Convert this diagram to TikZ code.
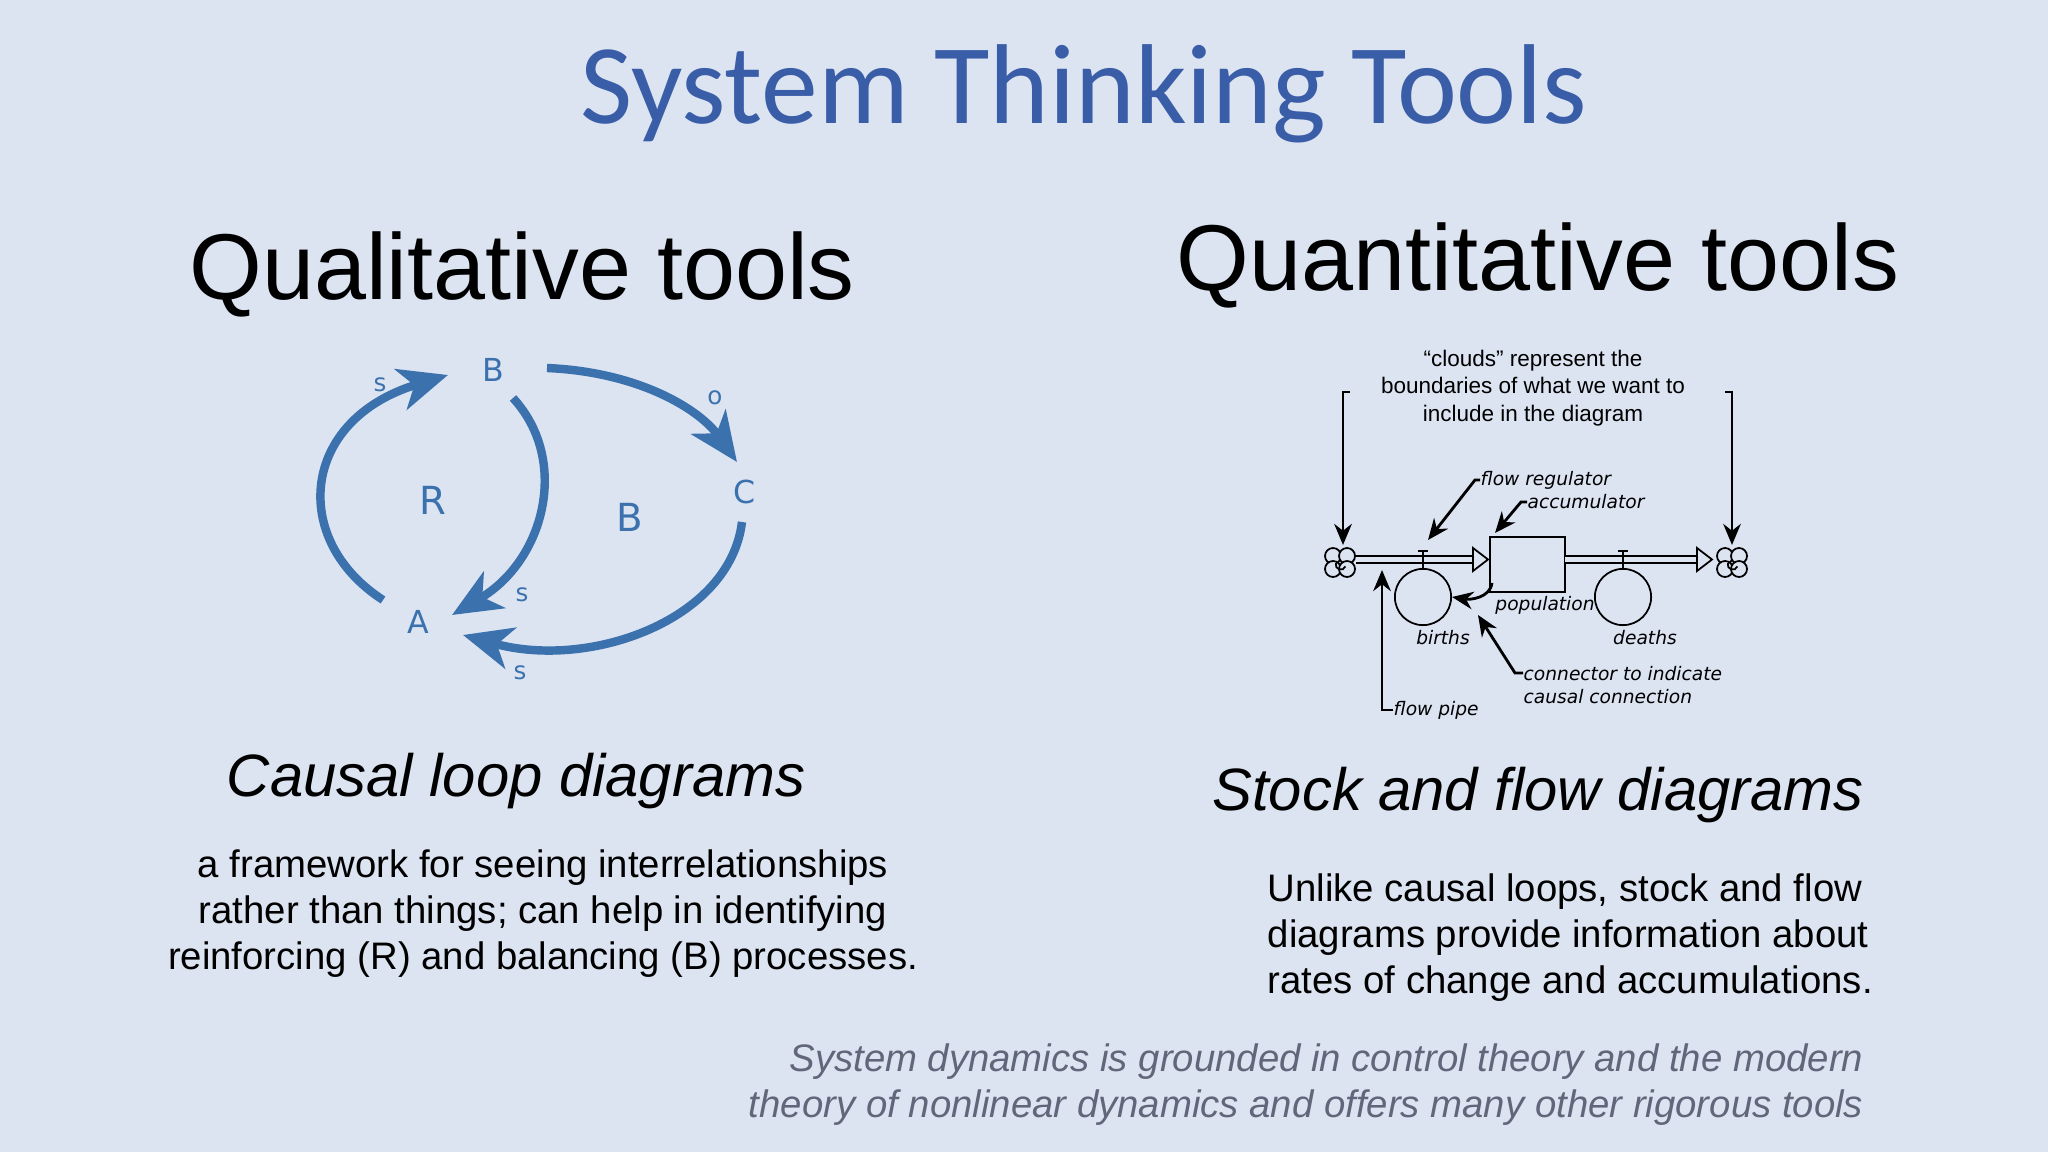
\documentclass[tikz,border=0pt]{standalone}
\usepackage{fontspec}
\setmainfont{Liberation Sans}
\newfontfamily\titlefont{Carlito}
\newfontfamily\handfont{DejaVu Sans}
\usetikzlibrary{arrows.meta}
\definecolor{bgc}{HTML}{DCE4F2}
\definecolor{titleblue}{HTML}{3A5DA8}
\definecolor{loopblue}{HTML}{3B72AE}
\definecolor{footgray}{HTML}{62667A}
\tikzset{
 loopar/.style={loopblue,line width=2.4pt,-{Stealth[length=14pt,width=12pt,inset=4pt]}},
 looplbl/.style={text=loopblue,font=\handfont\fontsize{9}{10}\selectfont},
 sfar/.style={line width=0.8pt,-{Stealth[length=6pt,width=5pt]}},
 sfhand/.style={font=\handfont\itshape\fontsize{5.3}{6.5}\selectfont,anchor=west,inner sep=0},
 sfcirc/.style={draw,line width=0.5pt,circle,minimum size=16pt,inner sep=0},
 puff/.style={draw,line width=0.5pt,fill=bgc},
}
\begin{document}
\begin{tikzpicture}[x=0.01cm,y=-0.01cm]
\fill[bgc] (0,0) rectangle (2048,1152);
\useasboundingbox (0,0) rectangle (2048,1152);
\node[text=titleblue,font=\titlefont\fontsize{32.3}{36}\selectfont] (title) at (1084,94) {System Thinking Tools};
\node[font=\fontsize{26.6}{30}\selectfont] (qual) at (522,274) {Qualitative tools};
\node[font=\fontsize{26.6}{30}\selectfont] (quan) at (1538,265) {Quantitative tools};
\node[font=\itshape\fontsize{17}{20}\selectfont] (cld) at (516,781) {Causal loop diagrams};
\node[font=\itshape\fontsize{17}{20}\selectfont] (sfd) at (1538,795) {Stock and flow diagrams};
\node[font=\fontsize{10.9}{13.1}\selectfont,align=center] (ptext) at (543,914) {a framework for seeing interrelationships\\rather than things; can help in identifying\\reinforcing (R) and balancing (B) processes.};
\node[font=\fontsize{10.9}{13.1}\selectfont,align=left,anchor=west,inner sep=0] (qtext) at (1267,938) {Unlike causal loops, stock and flow\\diagrams provide information about\\rates of change and accumulations.};
\node[text=footgray,font=\itshape\fontsize{10.9}{13.1}\selectfont,align=right,anchor=east,inner sep=0] (foot) at (1864,1085) {System dynamics is grounded in control theory and the modern\\theory of nonlinear dynamics and offers many other rigorous tools};
% causal loop
\node[looplbl] (nB) at (493,370) {B};
\node[looplbl] (nA) at (418,622) {A};
\node[looplbl] (nC) at (745,492) {C};
\node[looplbl,font=\handfont\fontsize{11}{12}\selectfont] (nR) at (433,500) {R};
\node[looplbl,font=\handfont\fontsize{11}{12}\selectfont] (nB2) at (630,517) {B};
\node[looplbl,font=\handfont\fontsize{7}{8}\selectfont] (s1) at (380,385) {s};
\node[looplbl,font=\handfont\fontsize{7}{8}\selectfont] (s2) at (522,595) {s};
\node[looplbl,font=\handfont\fontsize{7}{8}\selectfont] (s3) at (520,673) {s};
\node[looplbl,font=\handfont\fontsize{7}{8}\selectfont] (o1) at (715,398) {o};
\coordinate (a1s) at (383,600); \coordinate (a1e) at (448,375);
\coordinate (a2s) at (513,398); \coordinate (a2e) at (452,615);
\coordinate (a3s) at (547,368); \coordinate (a3e) at (737,462);
\coordinate (a4s) at (742,522); \coordinate (a4e) at (463,635);
\draw[loopar] (a1s) .. controls (290,540) and (300,420) .. (a1e);
\draw[loopar] (a2s) .. controls (570,460) and (545,560) .. (a2e);
\draw[loopar] (a3s) .. controls (640,372) and (700,410) .. (a3e);
\draw[loopar] (a4s) .. controls (730,620) and (590,670) .. (a4e);
% stock and flow
\node[font=\fontsize{6.4}{7.8}\selectfont,align=center] (clouds) at (1533,388) {``clouds'' represent the\\boundaries of what we want to\\include in the diagram};
\node[draw,line width=0.5pt,inner sep=0,minimum width=21.3pt,minimum height=15.6pt] (box) at (1527.5,564.5) {};
\foreach \cx/\nm in {1340/cl1,1732/cl2}{
  \draw[puff] (\cx-7,556) circle (8);
  \draw[puff] (\cx+7,556) circle (8);
  \draw[puff] (\cx-7,569) circle (8);
  \draw[puff] (\cx+7,569) circle (8);
  \draw[line width=0.5pt] (\cx-4,563) arc (200:20:5);
  \coordinate (\nm) at (\cx,562);
}
\coordinate (cl1n) at (1343,545); \coordinate (cl2n) at (1732,545);
\coordinate (p1s) at (1356,559.5); \coordinate (p1e) at (1473,559.5);
\coordinate (p2s) at (1565,559.5); \coordinate (p2e) at (1697,559.5);
\draw[line width=0.5pt,double=bgc,double distance=1.3pt] (p1s) -- (p1e);
\draw[line width=0.5pt,double=bgc,double distance=1.3pt] (p2s) -- (p2e);
\draw[line width=0.5pt,fill=bgc] (1473,548) -- (1488,559.5) -- (1473,571) -- cycle;
\draw[line width=0.5pt,fill=bgc] (1697,548) -- (1712,559.5) -- (1697,571) -- cycle;
\node[sfcirc] (births) at (1423,597) {};
\node[sfcirc] (deaths) at (1623,597) {};
\draw[line width=0.6pt] (births.north) -- (1423,551) (1418,551) -- (1428,551);
\draw[line width=0.6pt] (deaths.north) -- (1623,551) (1618,551) -- (1628,551);
\node[sfhand,anchor=center] (lb) at (1443,638) {births};
\node[sfhand,anchor=center] (ld) at (1645,638) {deaths};
\node[sfhand,anchor=center] (lp) at (1545,605) {population};
\node[sfhand] (lfr) at (1480,480) {flow regulator};
\node[sfhand] (lacc) at (1527,502) {accumulator};
\node[sfhand,align=left] (lcon) at (1523,685) {connector to indicate\\causal connection};
\node[sfhand] (lfp) at (1393,710) {flow pipe};
\draw[sfar] (lfr.west) -- ++(-5,0) -- (1428,540);
\draw[sfar] (lacc.west) -- ++(-6,0) -- (1495,533);
\draw[sfar] (1492,583) .. controls (1490,598) and (1470,600) .. (births.east);
\draw[sfar] (lcon.west |- 0,673) -- ++(-8,0) -- (1478,615);
\draw[sfar] (lfp.west) -- (1382,710) -- (1382,570);
\draw[sfar] (1350,392) -- (1343,392) -- (cl1n);
\draw[sfar] (1725,392) -- (1732,392) -- (cl2n);
\end{tikzpicture}
\end{document}
